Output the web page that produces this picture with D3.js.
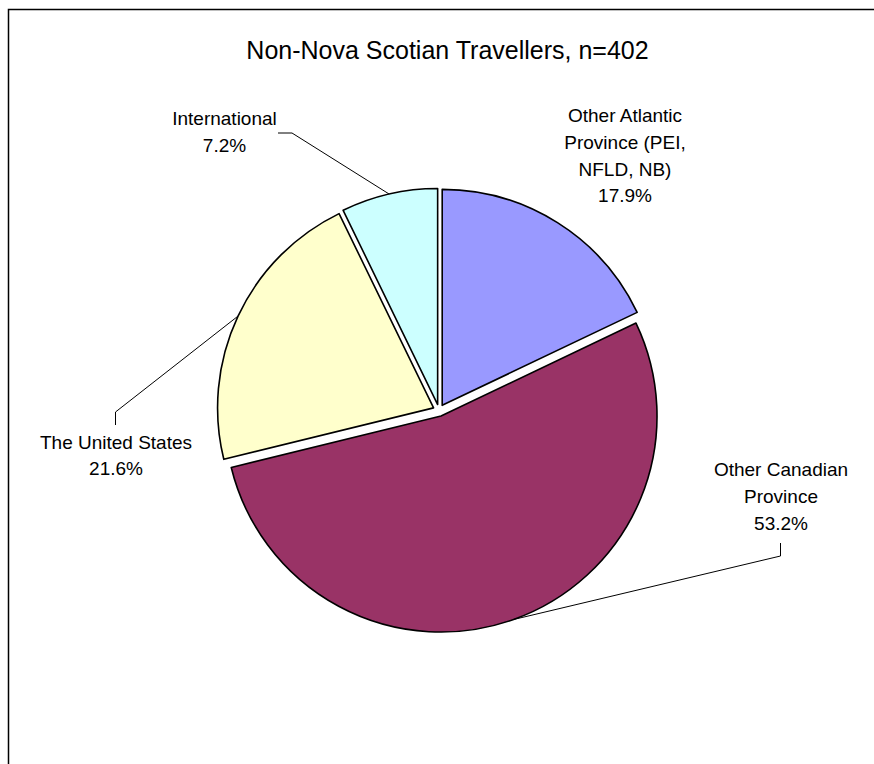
<!DOCTYPE html>
<html>
<head>
<meta charset="utf-8">
<script src="https://cdn.jsdelivr.net/npm/d3@7"></script>
<style>
  html, body { margin: 0; padding: 0; background: #fff; }
  svg { display: block; }
  text { font-family: "Liberation Sans", Arial, sans-serif; fill: #000; }
</style>
</head>
<body>
<svg id="chart" width="874" height="764"></svg>
<script>
// Origin of non-Nova Scotian travellers (share of respondents, %)
const categories = ["Other Atlantic Province (PEI, NFLD, NB)", "Other Canadian Province", "The United States", "International"];
const labelLines = [["Other Atlantic", "Province (PEI,", "NFLD, NB)"], ["Other Canadian", "Province"], ["The United States"], ["International"]];
const values = [17.9, 53.2, 21.6, 7.2];
const colors = ["#9999FF", "#993366", "#FFFFCC", "#CCFFFF"];
const title = "Non-Nova Scotian Travellers, n=402";

const svg = d3.select("#chart");
const W = 874, H = 764;

// chart frame
svg.append("rect")
  .attr("x", 8.5).attr("y", 9.5)
  .attr("width", W + 20).attr("height", H + 20)
  .attr("fill", "none").attr("stroke", "#000").attr("stroke-width", 1.5);

svg.append("text")
  .attr("x", 447.5).attr("y", 59)
  .attr("text-anchor", "middle")
  .style("font-size", "25px")
  .text(title);

const cx = 439, cy = 410.4, r = 216, explode = 6;

const pie = d3.pie().sort(null).value(d => d).startAngle(0).endAngle(2 * Math.PI);
const arcs = pie(values);
const arc = d3.arc().innerRadius(0).outerRadius(r);

const dirOf = a => { const m = (a.startAngle + a.endAngle) / 2; return [Math.sin(m), -Math.cos(m)]; };

const g = svg.append("g").attr("transform", `translate(${cx},${cy})`);

g.selectAll("path.slice")
  .data(arcs)
  .join("path")
  .attr("class", "slice")
  .attr("transform", d => { const [dx, dy] = dirOf(d); return `translate(${dx * explode},${dy * explode})`; })
  .attr("d", arc)
  .attr("fill", (d, i) => colors[i])
  .attr("stroke", "#000")
  .attr("stroke-width", 1.6)
  .attr("stroke-linejoin", "round");

// label layout: centre x, first baseline, and optional leader elbow
const labelPos = [
  { x: 625, y: 122, leader: null },
  { x: 781, y: 476, leader: { ex: 780.5, ey: 543, kx: 780.5, ky: 556 } },
  { x: 116, y: 448.5, leader: { ex: 115.5, ey: 425, kx: 115.5, ky: 412 } },
  { x: 224.5, y: 125, leader: { ex: 278, ey: 133, kx: 292, ky: 133 } }
];
const lineH = 26.8;

arcs.forEach((a, i) => {
  const p = labelPos[i];
  const lines = labelLines[i].concat([values[i].toFixed(1) + "%"]);
  const t = svg.append("text")
    .attr("text-anchor", "middle")
    .style("font-size", "19px");
  lines.forEach((s, k) => {
    t.append("tspan").attr("x", p.x).attr("y", p.y + k * lineH).text(s);
  });
  if (p.leader) {
    const [dx, dy] = dirOf(a);
    const tipX = cx + dx * (r + explode), tipY = cy + dy * (r + explode);
    svg.append("polyline")
      .attr("points", [[p.leader.ex, p.leader.ey], [p.leader.kx, p.leader.ky], [tipX, tipY]].map(q => q.join(",")).join(" "))
      .attr("fill", "none").attr("stroke", "#000").attr("stroke-width", 1);
  }
});
</script>
</body>
</html>
